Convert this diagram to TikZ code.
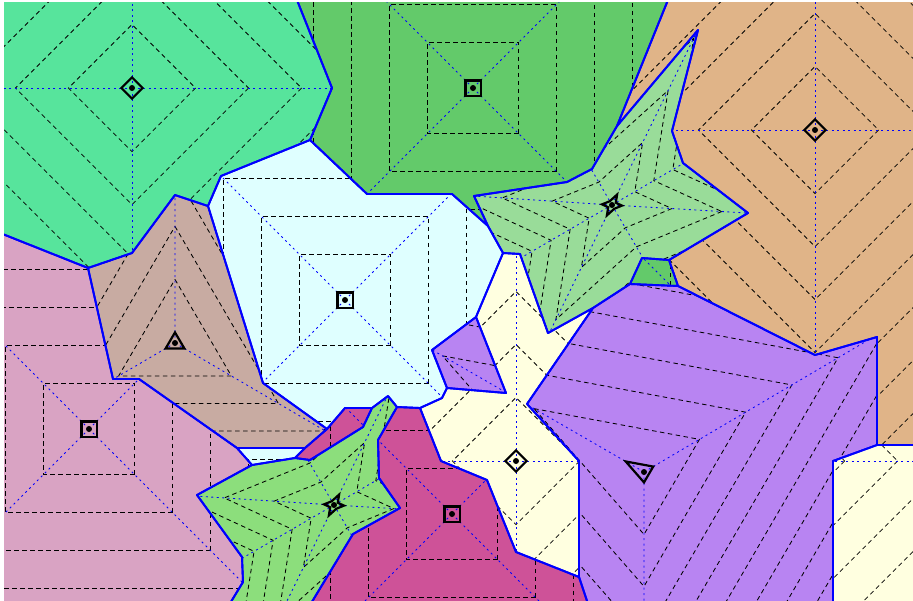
\documentclass[tikz,border=0pt]{standalone}
\definecolor{cTeal}{RGB}{87,228,156}
\definecolor{cGreen}{RGB}{99,202,106}
\definecolor{cTan}{RGB}{224,180,136}
\definecolor{cStarA}{RGB}{153,220,153}
\definecolor{cCyan}{RGB}{223,255,255}
\definecolor{cTaupe}{RGB}{200,171,162}
\definecolor{cPink}{RGB}{217,163,195}
\definecolor{cYellow}{RGB}{255,255,224}
\definecolor{cPurple}{RGB}{184,132,242}
\definecolor{cStarB}{RGB}{140,222,124}
\definecolor{cMag}{RGB}{206,82,152}
\tikzset{
 contour/.style={black, line width=0.85pt, dash pattern=on 4.5pt off 3.5pt},
 ray/.style={blue, line width=0.85pt, dash pattern=on 2pt off 3.5pt},
 border/.style={blue, line width=1.9pt, line join=round},
 marker/.style={black, line width=2.2pt, line join=miter},
}
% unit shapes (one level)
\def\shSq{(38,38) -- (-38,38) -- (-38,-38) -- (38,-38) -- cycle}
\def\shDi{(53,0) -- (0,53) -- (-53,0) -- (0,-53) -- cycle}
\def\shTriA{(0,-53) -- (47,27.5) -- (-47,27.5) -- cycle}
\def\shTriB{(-91.6,-52.8) -- (46.2,-27.2) -- (0,52) -- cycle}
\def\shStar{(3.4:50) -- (59.75:22) -- (116.1:58) -- (149.9:22) -- (183.7:50) -- (239.9:22) -- (296.1:58) -- (329.75:22) -- cycle}
% regions
\def\rTeal{(-10,-10) -- (293,-10) -- (332,88) -- (313,133) -- (310,140) -- (221,176) -- (208,206) -- (175,195) -- (132,253) -- (88,268) -- (-10,229) -- cycle}
\def\rGreen{(293,-10) -- (672,-10) -- (617,126) -- (592,169) -- (567,182) -- (474,196) -- (488,226) -- (452,194) -- (367,194) -- (310,140) -- (313,133) -- (332,88) -- cycle (642,258) -- (669,260) -- (678,286) -- (630,284) -- cycle}
\def\rTan{(672,-10) -- (923,-10) -- (923,445) -- (877,445) -- (877,337) -- (815,355) -- (678,286) -- (669,260) -- (748,213) -- (683,163) -- (672,131) -- (698,30) -- (617,126) -- cycle}
\def\rStarA{(474,196) -- (567,182) -- (592,169) -- (617,126) -- (698,30) -- (672,131) -- (683,163) -- (748,213) -- (669,260) -- (642,258) -- (630,284) -- (593,308) -- (548,333) -- (520,254) -- (503,253) -- (488,226) -- cycle}
\def\rCyan{(221,176) -- (310,140) -- (367,194) -- (452,194) -- (488,226) -- (503,253) -- (476,317) -- (432,350) -- (447,388) -- (442,398) -- (420,408) -- (397,407) -- (388,396) -- (372,408) -- (345,408) -- (327,429) -- (263,383) -- (208,206) -- cycle (237,448) -- (305,448) -- (295,458) -- (252,465) -- cycle}
\def\rTaupe{(88,268) -- (132,253) -- (175,195) -- (208,206) -- (263,383) -- (327,429) -- (305,448) -- (237,448) -- (139,379) -- (113,379) -- cycle}
\def\rPink{(-10,229) -- (88,268) -- (113,379) -- (139,379) -- (237,448) -- (252,465) -- (197,495) -- (242,557) -- (243,582) -- (226,610) -- (-10,610) -- cycle}
\def\rYellow{(503,253) -- (520,254) -- (548,333) -- (593,308) -- (527,404) -- (579,461) -- (579,577) -- (516,552) -- (487,480) -- (441,461) -- (420,408) -- (442,398) -- (447,388) -- (506,393) -- (476,317) -- cycle (833,461) -- (877,445) -- (923,445) -- (923,610) -- (833,610) -- cycle}
\def\rPurple{(593,308) -- (630,284) -- (678,286) -- (815,355) -- (877,337) -- (877,445) -- (833,461) -- (833,610) -- (590,610) -- (579,577) -- (579,461) -- (527,404) -- cycle (476,317) -- (432,350) -- (447,388) -- (506,393) -- cycle}
\def\rStarB{(388,396) -- (397,407) -- (378,440) -- (379,478) -- (400,508) -- (353,534) -- (307,610) -- (226,610) -- (243,582) -- (242,557) -- (197,495) -- (252,465) -- (295,458) -- (310,460) -- (363,427) -- (372,408) -- cycle}
\def\rMag{(327,429) -- (345,408) -- (372,408) -- (363,427) -- (310,460) -- (295,458) -- (305,448) -- cycle (397,407) -- (420,408) -- (441,461) -- (487,480) -- (516,552) -- (579,577) -- (590,610) -- (307,610) -- (353,534) -- (400,508) -- (379,478) -- (378,440) -- cycle}
\newcommand\mycontours[2]{\foreach \k in {1.2,2.2,...,14.2}{\draw[contour, shift={(#1)}, scale=\k] #2;}}
\newcommand\raysDi[1]{\draw[ray] (#1) -- ++(1300,0) (#1) -- ++(-1300,0) (#1) -- ++(0,1300) (#1) -- ++(0,-1300);}
\newcommand\raysSq[1]{\draw[ray] (#1) -- ++(1000,1000) (#1) -- ++(-1000,1000) (#1) -- ++(1000,-1000) (#1) -- ++(-1000,-1000);}
\newcommand\raysStar[1]{\foreach \a in {3.4,59.75,116.1,149.9,183.7,239.9,296.1,329.75}{\draw[ray] (#1) -- ++(\a:1300);}}
\begin{document}
\begin{tikzpicture}[x=1pt,y=-1pt]
\useasboundingbox (0,0) rectangle (913,600);
\fill[white] (0,0) rectangle (913,600);
\coordinate (s1) at (132,88);
\coordinate (s2) at (473,88);
\coordinate (s3) at (815,130);
\coordinate (s4) at (612,205);
\coordinate (s5) at (345,300);
\coordinate (s6) at (175,343);
\coordinate (s7) at (89,429);
\coordinate (s8) at (516,461);
\coordinate (s9) at (644,472);
\coordinate (s10) at (334,505);
\coordinate (s11) at (452,514);
\begin{scope}
\clip (4,2) rectangle (913,600);
% teal
\fill[cTeal] \rTeal;
\begin{scope}\clip \rTeal; \mycontours{s1}{\shDi} \raysDi{s1} \end{scope}
% green
\fill[cGreen] \rGreen;
\begin{scope}\clip \rGreen; \mycontours{s2}{\shSq} \raysSq{s2} \end{scope}
% tan
\fill[cTan] \rTan;
\begin{scope}\clip \rTan; \mycontours{s3}{\shDi} \raysDi{s3} \end{scope}
% star A
\fill[cStarA] \rStarA;
\begin{scope}\clip \rStarA; \mycontours{s4}{\shStar} \raysStar{s4} \end{scope}
% cyan
\fill[cCyan] \rCyan;
\begin{scope}\clip \rCyan; \mycontours{s5}{\shSq} \raysSq{s5} \end{scope}
% taupe
\fill[cTaupe] \rTaupe;
\begin{scope}\clip \rTaupe; \mycontours{s6}{\shTriA}
 \draw[ray] (s6) -- ++(0,-1300) (s6) -- ++(1175,687) (s6) -- ++(-1175,687); \end{scope}
% pink
\fill[cPink] \rPink;
\begin{scope}\clip \rPink; \mycontours{s7}{\shSq} \raysSq{s7} \end{scope}
% yellow
\fill[cYellow] \rYellow;
\begin{scope}\clip \rYellow; \mycontours{s8}{\shDi} \raysDi{s8} \end{scope}
% purple
\fill[cPurple] \rPurple;
\begin{scope}\clip \rPurple; \mycontours{s9}{\shTriB}
 \draw[ray] (s9) -- ++(-1832,-1056) (s9) -- ++(924,-544) (s9) -- ++(0,1300); \end{scope}
% star B
\fill[cStarB] \rStarB;
\begin{scope}\clip \rStarB; \mycontours{s10}{\shStar} \raysStar{s10} \end{scope}
% magenta
\fill[cMag] \rMag;
\begin{scope}\clip \rMag; \mycontours{s11}{\shSq} \raysSq{s11} \end{scope}
% borders
\draw[border] \rTeal;
\draw[border] \rGreen;
\draw[border] \rTan;
\draw[border] \rStarA;
\draw[border] \rCyan;
\draw[border] \rTaupe;
\draw[border] \rPink;
\draw[border] \rYellow;
\draw[border] \rPurple;
\draw[border] \rStarB;
\draw[border] \rMag;
\end{scope}
% markers
\draw[marker, shift={(s1)}, scale=0.2] \shDi;
\draw[marker, shift={(s2)}, scale=0.2] \shSq;
\draw[marker, shift={(s3)}, scale=0.2] \shDi;
\draw[marker, shift={(s4)}, scale=0.2] \shStar;
\draw[marker, shift={(s5)}, scale=0.2] \shSq;
\draw[marker, shift={(s6)}, scale=0.2] \shTriA;
\draw[marker, shift={(s7)}, scale=0.2] \shSq;
\draw[marker, shift={(s8)}, scale=0.2] \shDi;
\draw[marker, shift={(s9)}, scale=0.2] \shTriB;
\draw[marker, shift={(s10)}, scale=0.2] \shStar;
\draw[marker, shift={(s11)}, scale=0.2] \shSq;
\foreach \s in {s1,s2,s3,s4,s5,s6,s7,s8,s9,s10,s11}{\fill (\s) circle (3);}
\end{tikzpicture}
\end{document}
